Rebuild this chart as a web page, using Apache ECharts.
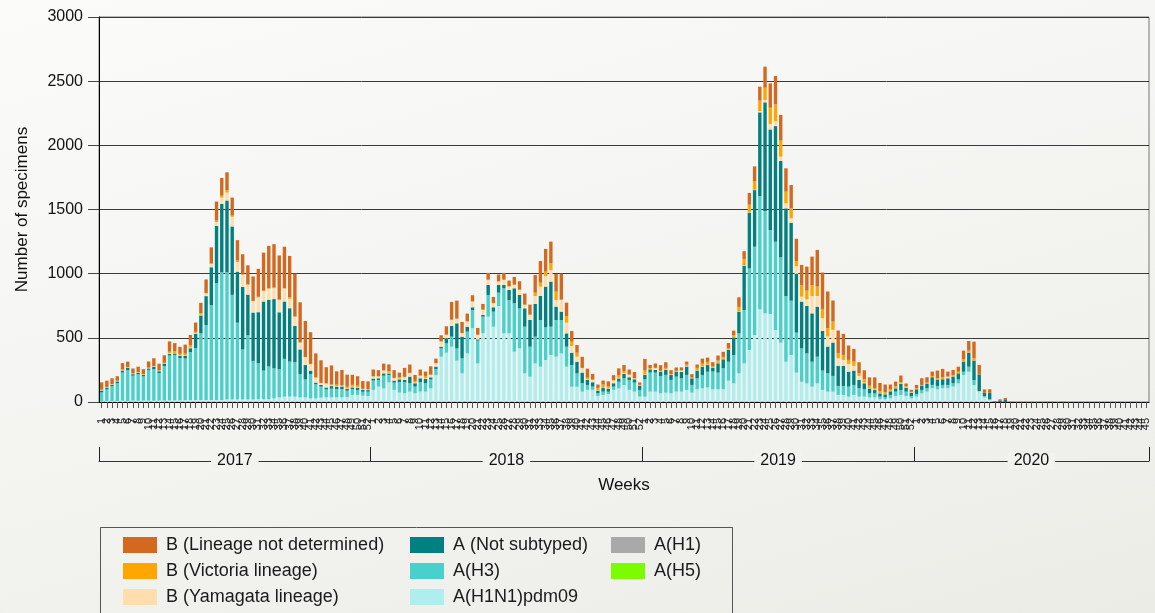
<!DOCTYPE html>
<html><head><meta charset="utf-8">
<script src="https://cdn.jsdelivr.net/npm/echarts@6/dist/echarts.min.js"></script>
<style>
html,body{margin:0;padding:0;width:1155px;height:613px;overflow:hidden;background:linear-gradient(165deg,#fbfbfa 0%,#f3f3f0 55%,#ecece7 100%);}
#chart{width:1155px;height:613px;}
</style></head><body><div id="chart"></div>
<script>
// ---- data ----
const years = [2017, 2018, 2019, 2020];
const weeksPerYear = [52, 52, 52, 45];

const bUndetermined2017 = [57,50,45,35,50,42,38,42,38,48,62,52,58,80,65,55,70,78,72,80,105,125,148,138,138,140,158,156,148,190,218,296,330,338,343,322,322,332,312,280,247,187,176,125,148,104,117,94,78,73,60,60];
const bUndetermined2018 = [52,47,52,52,60,34,70,65,47,47,34,65,34,47,65,138,140,86,60,47,52,44,52,47,52,52,44,60,65,86,78,138,169,177,169,138,203,104,83,60,86,70,44,26,31,39,39,55,47,39,47,18];
const bUndetermined2019 = [91,26,34,44,44,31,26,23,23,26,26,39,34,34,39,39,39,36,75,60,91,117,109,164,190,221,200,182,182,174,156,187,221,286,286,286,164,177,164,112,99,86,70,65,83,65,60,39,36,52,21,16];
const bUndetermined2020 = [26,52,42,34,60,65,39,39,39,68,75,130,70,26,26,5,8,10,2,0,2,2,0,0,2,2,2,0,2,0,0,0,0,0,0,0,0,0,0,0,0,0,0,0,0];

const bVictoria2017 = [3,3,2,2,5,4,3,3,3,3,3,3,3,10,12,12,15,20,12,12,5,5,12,15,20,10,12,5,5,3,5,5,5,5,5,5,12,5,3,3,3,3,3,3,8,13,8,15,15,15,5,5];
const bVictoria2018 = [3,3,3,13,3,13,3,3,13,3,18,3,3,3,3,3,3,3,3,3,3,3,3,3,3,3,3,3,3,3,3,26,31,34,52,65,3,52,34,31,3,13,3,18,21,16,3,18,18,3,5,3];
const bVictoria2019 = [31,5,3,3,13,3,3,3,13,3,18,21,21,5,18,16,13,13,34,52,60,65,81,96,127,130,125,91,78,40,91,68,86,73,70,65,65,39,39,31,34,21,26,18,13,13,13,10,13,10,8,3];
const bVictoria2020 = [8,8,10,10,13,16,0,13,13,18,16,18,3,0,0,0,0,0,0,0,0,0,0,0,0,0,0,0,0,0,0,0,0,0,0,0,0,0,0,0,0,0,0,0,0];

const bYamagata2017 = [3,3,3,3,3,3,3,3,3,3,3,3,3,5,3,3,3,5,5,6,20,25,30,50,62,75,75,94,75,88,115,80,85,85,95,100,73,70,52,60,50,38,13,30,5,3,3,3,5,3,3,3];
const bYamagata2018 = [15,13,21,5,18,5,21,26,5,18,5,18,26,39,26,47,34,26,39,44,34,39,39,31,26,39,26,26,39,26,39,62,73,83,91,52,91,83,52,39,34,5,18,3,3,3,21,5,5,18,5,3];
const bYamagata2019 = [3,3,13,3,3,3,3,10,3,3,3,3,3,3,3,3,3,3,3,3,3,3,10,18,42,39,34,39,34,60,39,52,135,83,99,78,99,60,47,60,36,31,5,3,3,3,3,3,3,3,3,3];
const bYamagata2020 = [0,0,0,0,0,0,13,0,0,0,0,0,0,0,0,0,0,0,0,0,0,0,0,0,0,0,0,0,0,0,0,0,0,0,0,0,0,0,0,0,0,0,0,0,0];

const aNotSubtyped2017 = [15,12,12,15,15,18,12,12,12,12,18,15,20,15,12,18,20,30,110,140,225,295,447,533,560,533,398,486,317,377,398,538,520,540,442,447,416,283,192,112,26,13,13,15,20,18,20,13,15,16,15,12];
const aNotSubtyped2018 = [16,13,18,13,16,23,18,52,26,31,34,16,18,13,39,83,195,169,39,21,10,13,78,34,60,26,78,117,104,143,208,255,187,317,351,104,65,104,96,91,83,39,34,21,31,23,26,26,34,21,26,34];
const aNotSubtyped2019 = [34,26,21,34,39,39,39,49,65,52,60,65,52,31,73,70,91,138,169,343,434,441,652,847,784,901,751,683,608,457,364,369,377,390,309,208,260,156,156,117,112,65,47,39,26,26,23,29,26,47,31,26];
const aNotSubtyped2020 = [36,31,34,60,47,44,52,52,47,78,109,151,130,26,52,3,13,21,0,0,0,0,0,0,0,0,0,0,0,0,0,0,0,0,0,0,0,0,0,0,0,0,0,0,0];

const aH3_2017 = [70,90,115,138,220,240,195,205,190,240,245,215,270,350,355,330,325,375,405,520,585,740,910,995,990,815,598,390,500,300,280,223,255,234,221,294,273,268,182,140,190,110,86,62,68,65,65,50,44,39,31,34];
const aH3_2018 = [73,52,99,57,57,81,86,65,52,73,65,70,47,65,73,78,96,117,169,143,177,130,169,117,104,351,260,377,312,364,234,208,364,255,221,286,260,156,169,104,65,39,26,21,26,18,26,52,52,78,70,52];
const aH3_2019 = [135,148,148,135,138,104,117,104,117,60,86,104,122,138,130,164,148,221,312,416,636,688,883,797,654,688,665,512,423,312,260,234,195,208,151,143,122,70,70,78,78,65,57,31,31,21,16,26,34,39,34,18];
const aH3_2020 = [21,26,26,26,26,26,26,26,31,26,39,39,5,10,5,0,0,0,0,0,0,0,0,0,0,0,0,0,0,0,0,0,0,0,0,0,0,0,0,0,0,0,0,0,0];

const aH1N1pdm09_2017 = [5,8,8,8,10,8,10,10,10,10,10,10,10,12,12,12,14,14,15,15,15,15,15,15,20,20,20,20,20,20,22,22,22,28,36,42,42,42,36,36,28,28,34,36,36,36,36,38,55,55,49,47];
const aH1N1pdm09_2018 = [94,120,106,153,94,73,68,81,68,81,81,106,210,353,384,431,322,223,379,574,301,535,665,587,748,535,535,392,418,223,197,301,275,327,366,353,379,275,119,119,81,94,94,47,55,62,94,106,132,94,81,42];
const aH1N1pdm09_2019 = [42,81,81,68,73,68,81,81,94,73,99,106,114,99,99,99,166,145,223,301,405,522,722,691,686,561,462,314,366,229,158,145,119,145,94,81,81,55,55,42,55,42,42,36,36,21,21,29,47,55,47,29];
const aH1N1pdm09_2020 = [42,68,81,107,99,107,107,120,145,210,236,132,81,36,16,0,0,0,0,0,0,0,0,0,0,0,0,0,0,0,0,0,0,0,0,0,0,0,0,0,0,0,0,0,0];

// A(H1) and A(H5): no specimens reported
const aH1 = [];
const aH5 = [];

const bUndetermined = [].concat(bUndetermined2017, bUndetermined2018, bUndetermined2019, bUndetermined2020);
const bVictoria = [].concat(bVictoria2017, bVictoria2018, bVictoria2019, bVictoria2020);
const bYamagata = [].concat(bYamagata2017, bYamagata2018, bYamagata2019, bYamagata2020);
const aNotSubtyped = [].concat(aNotSubtyped2017, aNotSubtyped2018, aNotSubtyped2019, aNotSubtyped2020);
const aH3 = [].concat(aH3_2017, aH3_2018, aH3_2019, aH3_2020);
const aH1N1pdm09 = [].concat(aH1N1pdm09_2017, aH1N1pdm09_2018, aH1N1pdm09_2019, aH1N1pdm09_2020);

// ---- derived axis helpers ----
const weekLabels = [];
const boundaries = [0];
const mids = [];
let acc = 0;
weeksPerYear.forEach(function (n) {
  for (let w = 1; w <= n; w++) weekLabels.push(String(w));
  mids.push(acc + n / 2);
  acc += n;
  boundaries.push(acc);
});
const totalWeeks = acc;

const FONT = '"Liberation Sans", Arial, sans-serif';

const seriesDefs = [
  { name: 'A(H1N1)pdm09', data: aH1N1pdm09, color: '#AFEEEE' },
  { name: 'A(H3)', data: aH3, color: '#48D1CC' },
  { name: 'A (Not subtyped)', data: aNotSubtyped, color: '#008080' },
  { name: 'A(H1)', data: aH1, color: '#A9A9A9' },
  { name: 'A(H5)', data: aH5, color: '#7CFC00' },
  { name: 'B (Yamagata lineage)', data: bYamagata, color: '#FFDEAD' },
  { name: 'B (Victoria lineage)', data: bVictoria, color: '#FFA500' },
  { name: 'B (Lineage not determined)', data: bUndetermined, color: '#D2691E' }
];

const legendCommon = {
  orient: 'vertical', padding: 0, itemWidth: 34, itemHeight: 16, itemGap: 8,
  icon: 'rect', selectedMode: false,
  textStyle: { fontSize: 18, color: '#1a1a1a', fontFamily: FONT, padding: [0, 0, 0, 4] }
};

const chart = echarts.init(document.getElementById('chart'), null, { renderer: 'canvas' });
chart.setOption({
  animation: false,
  backgroundColor: 'transparent',
  textStyle: { fontFamily: FONT },
  grid: { left: 99, right: 6, top: 17, bottom: 211, show: true, borderColor: '#777', borderWidth: 1 },
  legend: [
    Object.assign({ left: 123, top: 536, data: ['B (Lineage not determined)', 'B (Victoria lineage)', 'B (Yamagata lineage)'] }, legendCommon),
    Object.assign({ left: 410, top: 536, data: ['A (Not subtyped)', 'A(H3)', 'A(H1N1)pdm09'] }, legendCommon),
    Object.assign({ left: 611, top: 536, data: ['A(H1)', 'A(H5)'] }, legendCommon)
  ],
  graphic: [{
    type: 'rect', silent: true,
    shape: { x: 100.5, y: 527.5, width: 632, height: 100 },
    style: { fill: 'none', stroke: '#555', lineWidth: 1 }
  }],
  xAxis: [{
    type: 'category', data: weekLabels, position: 'bottom',
    axisLine: { show: true, lineStyle: { color: '#000', width: 1 } },
    axisTick: { show: true, alignWithLabel: true, interval: 0, length: 6, lineStyle: { color: '#555' } },
    axisLabel: { interval: 0, rotate: 90, fontSize: 11, margin: 16, color: '#222', fontFamily: FONT },
    splitLine: { show: false }
  }, {
    type: 'value', min: 0, max: totalWeeks, position: 'bottom', offset: 59,
    axisLine: { show: true, lineStyle: { color: '#333', width: 1 } },
    axisTick: { show: true, inside: true, length: 14, customValues: boundaries, lineStyle: { color: '#222' } },
    axisLabel: {
      customValues: mids,
      formatter: function (v) {
        let best = 0;
        mids.forEach(function (m, i) { if (Math.abs(m - v) < Math.abs(mids[best] - v)) best = i; });
        return String(years[best]);
      },
      verticalAlign: 'middle', margin: 0, fontSize: 16, color: '#111',
      backgroundColor: '#f2f2ef', padding: [0, 6], fontFamily: FONT
    },
    splitLine: { show: false },
    name: 'Weeks', nameLocation: 'middle', nameGap: 16,
    nameTextStyle: { fontSize: 17, color: '#111', fontFamily: FONT }
  }],
  yAxis: {
    type: 'value', min: 0, max: 3000, interval: 500,
    axisLine: { show: true, lineStyle: { color: '#000', width: 1 } },
    axisTick: { show: true, length: 11, lineStyle: { color: '#444' } },
    axisLabel: { fontSize: 16, margin: 16, color: '#111', fontFamily: FONT, formatter: function (v) { return String(v); } },
    splitLine: { show: true, lineStyle: { color: '#3a3a3a', width: 1 } },
    name: 'Number of specimens', nameLocation: 'middle', nameGap: 68,
    nameTextStyle: { fontSize: 17, color: '#111', fontFamily: FONT }
  },
  series: seriesDefs.map(function (s) {
    return {
      name: s.name, type: 'bar', stack: 'total', data: s.data,
      xAxisIndex: 0, barCategoryGap: '35%',
      itemStyle: { color: s.color }
    };
  })
});
</script></body></html>
